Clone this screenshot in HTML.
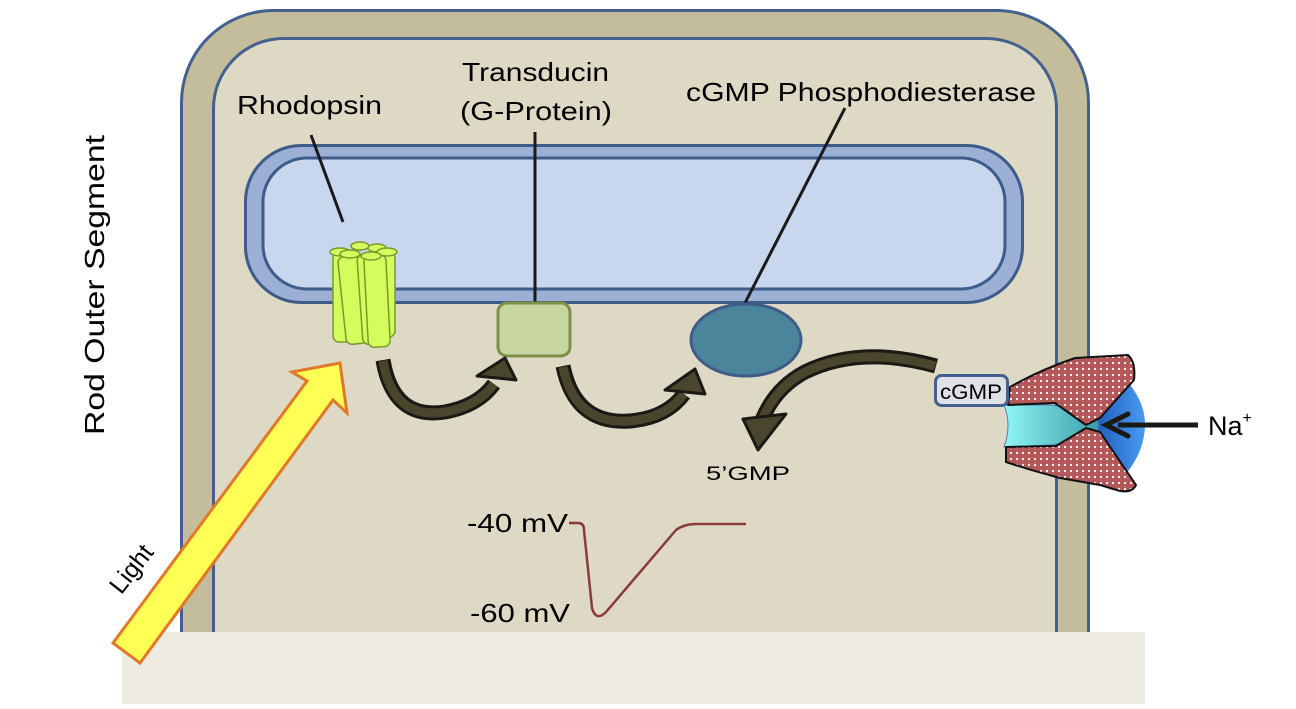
<!DOCTYPE html>
<html><head><style>
html,body{margin:0;padding:0;background:#fff;}
svg text{font-family:"Liberation Sans",sans-serif;}
</style></head><body>
<svg width="1296" height="704" viewBox="0 0 1296 704" xmlns="http://www.w3.org/2000/svg">
<defs>
<pattern id="dots" width="6" height="6" patternUnits="userSpaceOnUse">
<rect width="6" height="6" fill="#b5585a"/><circle cx="3" cy="3" r="1.1" fill="#fff"/>
</pattern>
<linearGradient id="cy" x1="0" x2="1"><stop offset="0" stop-color="#8ff5f5"/><stop offset="1" stop-color="#3aa0a8"/></linearGradient>
<linearGradient id="bl" x1="0" x2="1"><stop offset="0" stop-color="#2060c0"/><stop offset="1" stop-color="#4a9af0"/></linearGradient>
</defs>
<rect x="181.5" y="10.5" width="907" height="720" rx="92" fill="#c4bd9b" stroke="#44608f" stroke-width="3"/>
<rect x="213.5" y="38.5" width="843" height="700" rx="70" fill="#ddd9c4" stroke="#44608f" stroke-width="3"/>
<rect x="245.5" y="145.5" width="777" height="157" rx="56" fill="#9bb0d4" stroke="#3f5b8a" stroke-width="3"/>
<rect x="263" y="158" width="742" height="131" rx="44" fill="#c8d6ee" stroke="#3f5b8a" stroke-width="3"/>
<rect x="122" y="632" width="1023" height="72" fill="#eeebe3"/>
<text x="237" y="114" font-size="26" textLength="145" lengthAdjust="spacingAndGlyphs">Rhodopsin</text>
<text x="462" y="81" font-size="26" textLength="147" lengthAdjust="spacingAndGlyphs">Transducin</text>
<text x="460" y="120" font-size="26" textLength="152" lengthAdjust="spacingAndGlyphs">(G-Protein)</text>
<text x="686" y="101" font-size="26" textLength="350" lengthAdjust="spacingAndGlyphs">cGMP Phosphodiesterase</text>
<text transform="translate(104,435) rotate(-90)" font-size="28" textLength="300" lengthAdjust="spacingAndGlyphs">Rod Outer Segment</text>
<text transform="translate(138,574) rotate(-52)" font-size="25" text-anchor="middle">Light</text>
<line x1="311" y1="135" x2="343" y2="222" stroke="#1a1a1a" stroke-width="3"/>
<line x1="535" y1="132" x2="535" y2="304" stroke="#1a1a1a" stroke-width="3"/>
<line x1="845" y1="108" x2="745" y2="303" stroke="#1a1a1a" stroke-width="3"/>
<g fill="#d4fc5c" stroke="#7a9a2a" stroke-width="1.5">
<rect x="333" y="252" width="22" height="90" rx="6"/>
<rect x="375" y="252" width="20" height="85" rx="6"/>
<rect x="342" y="256" width="22" height="88" rx="6" transform="rotate(-6 353 300)"/>
<rect x="360" y="254" width="22" height="90" rx="6" transform="rotate(-4 371 300)"/>
<rect x="366" y="255" width="22" height="92" rx="6" transform="rotate(-3 377 300)"/>
<ellipse cx="360" cy="246" rx="9" ry="4"/><ellipse cx="377" cy="248" rx="9" ry="4"/>
<ellipse cx="340" cy="252" rx="10" ry="4"/><ellipse cx="387" cy="252" rx="10" ry="4"/>
<ellipse cx="350" cy="254" rx="10" ry="4"/><ellipse cx="371" cy="256" rx="10" ry="4"/>
</g>
<rect x="498" y="303" width="72" height="53" rx="9" fill="#c7d6a1" stroke="#7c9147" stroke-width="3"/>
<ellipse cx="746" cy="340" rx="55" ry="36" fill="#4a859b" stroke="#3f5b8a" stroke-width="3"/>
<g fill="none" stroke-linecap="butt">
<path d="M383,360 Q393,420 445,412 Q478,406 494,384" stroke="#1a1a14" stroke-width="15"/>
<path d="M383,361 Q393,420 445,412 Q478,406 494,384" stroke="#4a462e" stroke-width="9"/>
<path d="M563,366 Q575,425 630,421 Q666,418 684,394" stroke="#1a1a14" stroke-width="15"/>
<path d="M563,367 Q575,425 630,421 Q666,418 684,394" stroke="#4a462e" stroke-width="9"/>
<path d="M936,366 Q860,345 805,372 Q775,388 762,420" stroke="#1a1a14" stroke-width="15"/>
<path d="M935,366 Q860,345 805,372 Q775,388 762,420" stroke="#4a462e" stroke-width="9"/>
</g>
<g fill="#4a462e" stroke="#1a1a14" stroke-width="3" stroke-linejoin="round">
<polygon points="516,380 477,376 505,358"/>
<polygon points="705,394 665,390 695,369"/>
<polygon points="758,450 743,419 786,414"/>
</g>
<polygon points="113,643 307,381 292,372 340,363 347,413 333,400 140,663" fill="#ffff55" stroke="#e07a2a" stroke-width="3"/>
<path d="M1100,356 Q1145,390 1145,424 Q1145,460 1110,490 L1098,440 L1098,410 Z" fill="url(#bl)"/>
<path d="M1004,405 Q1012,425 1004,447 L1050,445 L1098,438 L1098,412 L1050,405 Z" fill="url(#cy)" stroke="#5a7ab0" stroke-width="1"/>
<path d="M1010,387 Q1040,370 1075,358 L1128,355 Q1136,362 1134,380 L1100,418 L1086,425 L1055,403 L1008,405 Z" fill="url(#dots)" stroke="#111" stroke-width="2" stroke-linejoin="round"/>
<path d="M1006,447 L1056,446 L1086,428 L1100,432 L1136,485 Q1132,493 1120,491 L1100,485 L1060,478 Q1030,470 1006,462 Z" fill="url(#dots)" stroke="#111" stroke-width="2" stroke-linejoin="round"/>
<rect x="935.5" y="375.5" width="72" height="30" rx="6" fill="#dfe1e6" stroke="#44608f" stroke-width="3"/>
<text x="971" y="399" font-size="21" text-anchor="middle" textLength="62" lengthAdjust="spacingAndGlyphs">cGMP</text>
<line x1="1198" y1="425" x2="1118" y2="425" stroke="#1a1a14" stroke-width="5"/>
<polyline points="1128,414 1106,425 1128,436" fill="none" stroke="#1a1a14" stroke-width="5" stroke-linecap="round"/>
<text x="1208" y="435" font-size="27">Na<tspan font-size="16" dy="-12">+</tspan></text>
<text x="706" y="480" font-size="19" textLength="84" lengthAdjust="spacingAndGlyphs">5’GMP</text>
<text x="467" y="532" font-size="26" textLength="101" lengthAdjust="spacingAndGlyphs">-40 mV</text>
<text x="470" y="622" font-size="26" textLength="100" lengthAdjust="spacingAndGlyphs">-60 mV</text>
<path d="M569,523 L578,523 Q584,523 584,530 L592,608 Q596,622 606,612 L676,530 Q684,524 696,524 L746,524" fill="none" stroke="#8b3a3a" stroke-width="2.5"/>
</svg>
</body></html>
